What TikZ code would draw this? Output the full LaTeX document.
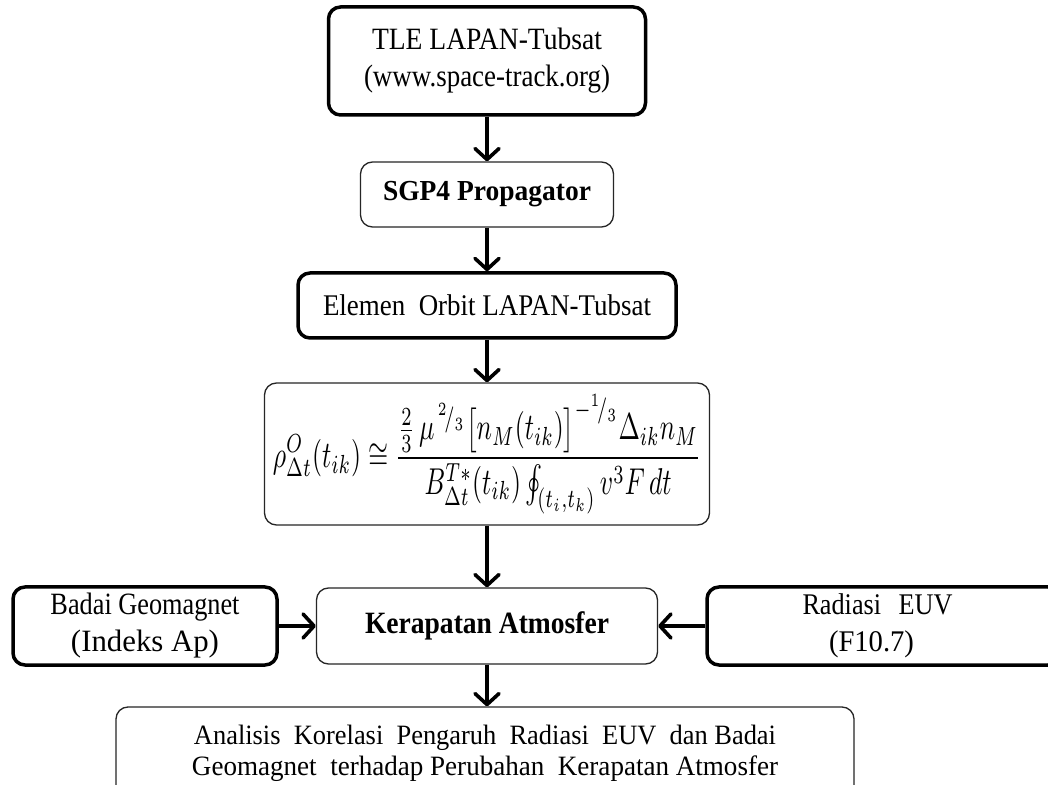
\documentclass[tikz,border=0pt]{standalone}
\usepackage{fontspec}
\setmainfont{Liberation Serif}
\usepackage{amsmath,amssymb}
\usetikzlibrary{arrows.meta}
\newcommand\fw[2]{\resizebox{#1pt}{\height}{#2}}
\tikzset{
  thickbox/.style={draw=black, line width=3.5pt, rounded corners=12pt, fill=white, inner sep=0pt, align=center},
  thinbox/.style={draw=black!85, line width=1.3pt, rounded corners=12pt, fill=white, inner sep=0pt, align=center},
  flow/.style={line width=3.6pt, -{Straight Barb[length=11pt,width=24pt,round]}},
}
\begin{document}
\begin{tikzpicture}[x=1pt,y=1pt]
\useasboundingbox (0,0) rectangle (1048,784);
\fill[white] (0,0) rectangle (1048,784);
% TLE
\node[thickbox, minimum width=317pt, minimum height=108pt,
      font=\fontsize{31}{37}\selectfont] (tle) at (487,723)
  {\fw{230}{TLE LAPAN-Tubsat}\\\fw{246}{(www.space-track.org)}};
% SGP4
\node[thinbox, minimum width=253pt, minimum height=65pt,
      font=\fontsize{29}{34}\selectfont\bfseries] (sgp) at (487,589.5)
  {\fw{208}{SGP4 Propagator}};
% Elemen
\node[thickbox, minimum width=378pt, minimum height=65pt,
      font=\fontsize{30}{34}\selectfont] (elem) at (487,478.5)
  {\fw{328}{Elemen\ \ Orbit LAPAN-Tubsat}};
% Formula
\node[thinbox, minimum width=445pt, minimum height=142pt] (form) at (487,330)
  {\resizebox*{428pt}{120pt}{$\displaystyle
   \rho^{O}_{\Delta t}(t_{ik}) \cong
   \frac{\frac{2}{3}\,\mu^{\,{}^{2}\!/{}_{3}}\bigl[n_M(t_{ik})\bigr]^{-{}^{1}\!/{}_{3}}\Delta_{ik}n_M}
        {B^{T*}_{\Delta t}(t_{ik})\oint_{(t_i,t_k)} v^3F\,dt}$}};
% Kerapatan
\node[thinbox, minimum width=341pt, minimum height=76pt,
      font=\fontsize{31}{34}\selectfont\bfseries] (ker) at (487,158)
  {\fw{244}{Kerapatan Atmosfer}};
% Badai
\node[thickbox, minimum width=264pt, minimum height=78pt,
      font=\fontsize{31}{37}\selectfont] (badai) at (145,158)
  {\fw{189}{Badai Geomagnet}\\\fw{148}{(Indeks Ap)}};
% Radiasi
\node[thickbox, minimum width=353pt, minimum height=78pt, text width=340pt,
      font=\fontsize{30}{37}\selectfont] (rad) at (883.5,158)
  {\hspace*{-12pt}\fw{150}{Radiasi\ \ EUV}\\\hspace*{-24pt}\fw{85}{(F10.7)}};
% Bottom
\node[thinbox, minimum width=738pt, minimum height=93pt,
      font=\fontsize{28}{31}\selectfont] (bot) at (485,30.5)
  {\fw{582}{Analisis\ \ Korelasi\ \ Pengaruh\ \ Radiasi\ \ EUV\ \ dan Badai}\\
   \fw{586}{Geomagnet\ \ terhadap Perubahan\ \ Kerapatan Atmosfer}};
% connectors
\draw[flow] (tle.south) -- (sgp.north);
\draw[flow] (sgp.south) -- (elem.north);
\draw[flow] (elem.south) -- (form.north);
\draw[flow] (form.south) -- (ker.north);
\draw[flow] (ker.south) -- (ker.south |- bot.north);
\draw[flow] (badai.east) -- (ker.west);
\draw[flow] (rad.west) -- (ker.east);
\end{tikzpicture}
\end{document}
